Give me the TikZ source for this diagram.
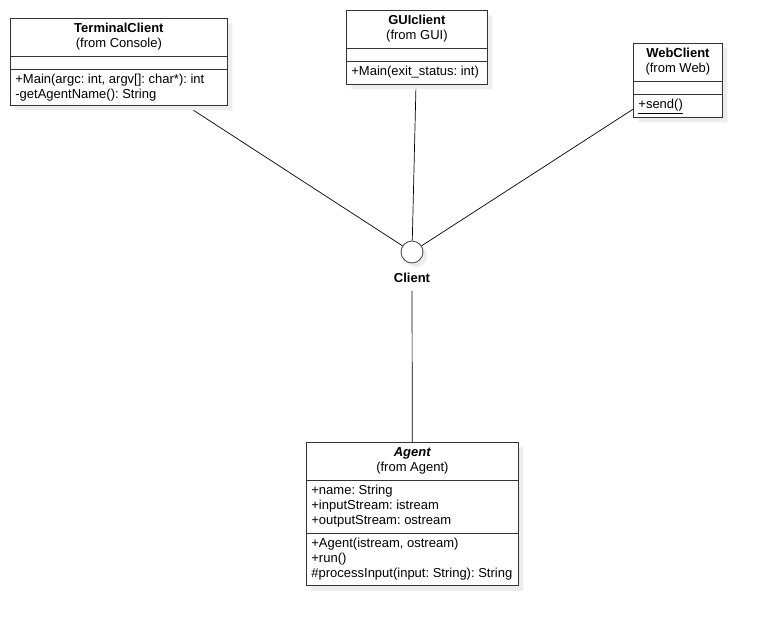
\documentclass[tikz,border=0pt]{standalone}
\usepackage{fontspec}
\setmainfont{Liberation Sans}
\frenchspacing
\usetikzlibrary{positioning,backgrounds,shapes,shadows}

\newcommand{\classtitle}[2]{\begin{tabular}{@{}c@{}}#1\\#2\end{tabular}}

\begin{document}
\begin{tikzpicture}[x=1pt,y=-1pt,font=\fontsize{13}{15}\selectfont,
  umlclass/.style={draw=black!80,fill=white,line width=0.8pt,anchor=north west,
    rectangle split,rectangle split parts=3,align=left,
    rectangle split part align={center,left,left},
    rectangle split empty part height=3pt,rectangle split empty part depth=0pt,
    inner xsep=5pt,inner ysep=3.5pt,
    general shadow={fill=black!7,shadow xshift=5pt,shadow yshift=-5pt}},
  iface/.style={circle,draw=black!75,fill=white,line width=0.8pt,minimum size=22pt,inner sep=0pt,
    general shadow={fill=black!7,shadow xshift=4pt,shadow yshift=-4pt}},
  link/.style={line width=0.7pt}]
\useasboundingbox (0,0) rectangle (762,627);

% classes
\node[umlclass,minimum width=217pt] (term) at (10,18)
  {\classtitle{\textbf{TerminalClient}}{(from Console)}
   \nodepart{two}
   \nodepart{three}\strut+Main(argc: int, argv[]: char*): int\\-getAgentName(): String};
\node[umlclass,minimum width=141pt] (gui) at (346,10)
  {\classtitle{\textbf{GUIclient}}{(from GUI)}
   \nodepart{two}
   \nodepart{three}\strut+Main(exit\_status: int)};
\node[umlclass,minimum width=89pt] (web) at (633,43)
  {\classtitle{\textbf{WebClient}}{(from Web)}
   \nodepart{two}
   \nodepart{three}\strut\underline{+send()}};
\node[umlclass,minimum width=212pt] (agent) at (306,442)
  {\classtitle{\textbf{\textit{Agent}}}{(from Agent)}
   \nodepart{two}\strut+name: String\\\strut+inputStream: istream\\\strut+outputStream: ostream
   \nodepart{three}\strut+Agent(istream, ostream)\\\strut+run()\\\strut\#processInput(input: String): String};

% interface
\node[iface] (client) at (412,252) {};
\node[below=2pt of client,inner sep=3pt,outer sep=5pt,font=\fontsize{13}{15}\selectfont\bfseries] (clientlabel) {Client};

% links
\begin{scope}[on background layer]
\draw[link] (term) -- (client);
\draw[link] (gui) -- (client);
\draw[link] (web) -- (client);
\draw[link] (agent) -- (clientlabel);
\end{scope}
\end{tikzpicture}
\end{document}
